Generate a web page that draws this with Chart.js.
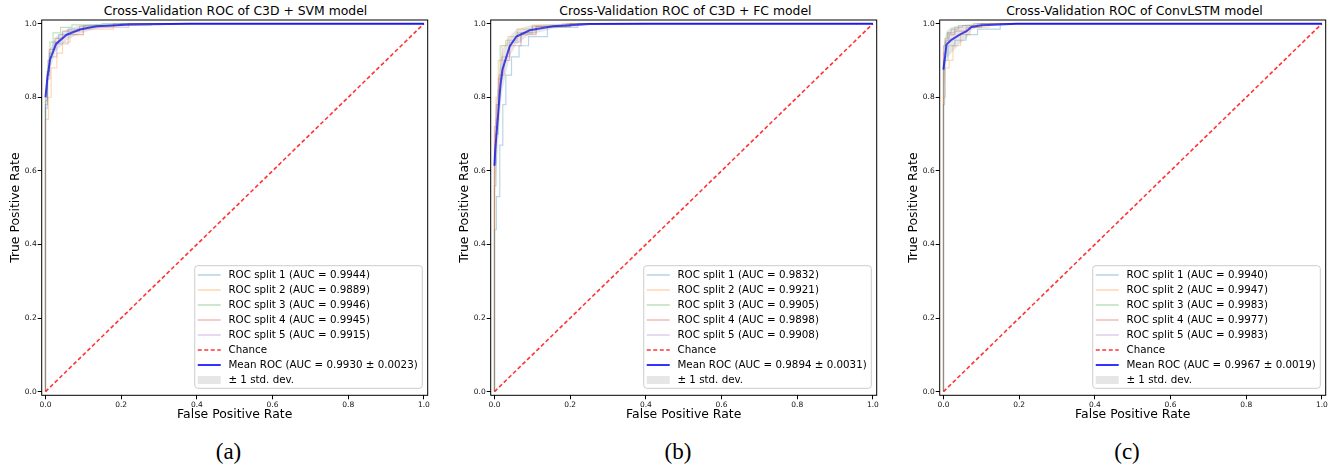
<!DOCTYPE html>
<html>
<head>
<meta charset="utf-8">
<script src="https://cdn.jsdelivr.net/npm/chart.js@4.4.1/dist/chart.umd.min.js"></script>
<style>
  body { margin: 0; width: 1337px; height: 467px; background: #fff; position: relative; overflow: hidden; font-family: "DejaVu Sans", sans-serif; }
  canvas { position: absolute; top: 0; }
  .title { position: absolute; top: 3px; width: 386px; text-align: center; font-size: 12.4px; line-height: 16px; color: #000; white-space: nowrap; }
  .caption { position: absolute; top: 437px; width: 60px; text-align: center; font-family: "Liberation Serif", "Times New Roman", serif; font-size: 23px; line-height: 30px; color: #000; }
</style>
</head>
<body>
<div class="title" style="left:42.5px">Cross-Validation ROC of C3D + SVM model</div>
<div class="title" style="left:492.4px">Cross-Validation ROC of C3D + FC model</div>
<div class="title" style="left:941.5px">Cross-Validation ROC of ConvLSTM model</div>
<canvas id="roc-a" width="445" height="430" style="left:0px"></canvas>
<canvas id="roc-b" width="445" height="430" style="left:449px"></canvas>
<canvas id="roc-c" width="439" height="430" style="left:898px"></canvas>
<div class="caption" style="left:198.5px">(a)</div>
<div class="caption" style="left:648px">(b)</div>
<div class="caption" style="left:1097px">(c)</div>
<script>
const tickValues = [0, 0.2, 0.4, 0.6, 0.8, 1.0];
const splitColors = ['rgba(31,119,180,0.3)', 'rgba(255,127,14,0.3)', 'rgba(44,160,44,0.3)', 'rgba(214,39,40,0.3)', 'rgba(148,103,189,0.3)'];
const chanceFpr = [0, 1];
const chanceTpr = [0, 1];

// (a) C3D + SVM
const splitAucA = [0.9944, 0.9889, 0.9946, 0.9945, 0.9915];
const splitFprA = [
    [0, 0, 0.005, 0.005, 0.01, 0.01, 0.02, 0.02, 0.035, 0.035, 0.06, 0.06, 0.1, 0.1, 0.2, 0.2, 1],
    [0, 0, 0.008, 0.008, 0.015, 0.015, 0.03, 0.03, 0.045, 0.045, 0.065, 0.065, 0.1, 0.1, 0.18, 0.18, 0.28, 0.28, 1],
    [0, 0, 0.006, 0.006, 0.012, 0.012, 0.02, 0.02, 0.04, 0.04, 0.07, 0.07, 0.15, 0.15, 1],
    [0, 0, 0.004, 0.004, 0.01, 0.01, 0.025, 0.025, 0.045, 0.045, 0.09, 0.09, 0.18, 0.18, 1],
    [0, 0, 0.005, 0.005, 0.012, 0.012, 0.03, 0.03, 0.06, 0.06, 0.1, 0.1, 0.22, 0.22, 1]
];
const splitTprA = [
    [0, 0.78, 0.78, 0.86, 0.86, 0.92, 0.92, 0.95, 0.95, 0.97, 0.97, 0.985, 0.985, 0.995, 0.995, 1, 1],
    [0, 0.74, 0.74, 0.8, 0.8, 0.88, 0.88, 0.92, 0.92, 0.95, 0.95, 0.97, 0.97, 0.985, 0.985, 0.995, 0.995, 1, 1],
    [0, 0.8, 0.8, 0.9, 0.9, 0.95, 0.95, 0.975, 0.975, 0.99, 0.99, 0.997, 0.997, 1, 1],
    [0, 0.79, 0.79, 0.87, 0.87, 0.93, 0.93, 0.96, 0.96, 0.98, 0.98, 0.993, 0.993, 1, 1],
    [0, 0.77, 0.77, 0.85, 0.85, 0.91, 0.91, 0.945, 0.945, 0.97, 0.97, 0.99, 0.99, 1, 1]
];
const meanFprA = [0, 0.005, 0.012, 0.028, 0.056, 0.091, 0.135, 0.224, 0.38, 1];
const meanTprA = [0.80, 0.852, 0.902, 0.945, 0.970, 0.984, 0.993, 0.998, 1.0, 1.0];
const upperA = [0.83, 0.88, 0.93, 0.965, 0.985, 0.995, 1.0, 1.0, 1.0, 1.0];
const lowerA = [0.77, 0.82, 0.875, 0.925, 0.955, 0.973, 0.986, 0.995, 1.0, 1.0];
const meanAucA = 0.9930, stdAucA = 0.0023;

// (b) C3D + FC
const splitAucB = [0.9832, 0.9921, 0.9905, 0.9898, 0.9908];
const splitFprB = [
    [0, 0, 0.005, 0.005, 0.014, 0.014, 0.022, 0.022, 0.03, 0.03, 0.045, 0.045, 0.065, 0.065, 0.09, 0.09, 0.14, 0.14, 0.22, 0.22, 1],
    [0, 0, 0.004, 0.004, 0.01, 0.01, 0.02, 0.02, 0.035, 0.035, 0.06, 0.06, 0.1, 0.1, 0.18, 0.18, 1],
    [0, 0, 0.004, 0.004, 0.01, 0.01, 0.015, 0.015, 0.03, 0.03, 0.06, 0.06, 0.1, 0.1, 0.2, 0.2, 1],
    [0, 0, 0.005, 0.005, 0.012, 0.012, 0.025, 0.025, 0.04, 0.04, 0.07, 0.07, 0.11, 0.11, 0.2, 0.2, 1],
    [0, 0, 0.004, 0.004, 0.01, 0.01, 0.02, 0.02, 0.04, 0.04, 0.07, 0.07, 0.11, 0.11, 0.19, 0.19, 1]
];
const splitTprB = [
    [0, 0.44, 0.44, 0.53, 0.53, 0.67, 0.67, 0.78, 0.78, 0.86, 0.86, 0.91, 0.91, 0.94, 0.94, 0.965, 0.965, 0.99, 0.99, 1, 1],
    [0, 0.7, 0.7, 0.8, 0.8, 0.9, 0.9, 0.94, 0.94, 0.965, 0.965, 0.985, 0.985, 0.996, 0.996, 1, 1],
    [0, 0.56, 0.56, 0.7, 0.7, 0.82, 0.82, 0.94, 0.94, 0.955, 0.955, 0.975, 0.975, 0.993, 0.993, 1, 1],
    [0, 0.72, 0.72, 0.78, 0.78, 0.86, 0.86, 0.9, 0.9, 0.94, 0.94, 0.97, 0.97, 0.992, 0.992, 1, 1],
    [0, 0.62, 0.62, 0.74, 0.74, 0.85, 0.85, 0.91, 0.91, 0.95, 0.95, 0.975, 0.975, 0.993, 0.993, 1, 1]
];
const meanFprB = [0, 0.002, 0.014, 0.016, 0.021, 0.04, 0.058, 0.093, 0.154, 0.252, 0.4, 1];
const meanTprB = [0.614, 0.657, 0.81, 0.834, 0.875, 0.938, 0.965, 0.982, 0.993, 0.999, 1, 1];
const upperB = [0.72, 0.76, 0.88, 0.9, 0.93, 0.965, 0.985, 0.995, 1, 1, 1, 1];
const lowerB = [0.51, 0.55, 0.74, 0.77, 0.82, 0.91, 0.945, 0.97, 0.986, 0.997, 1, 1];
const meanAucB = 0.9894, stdAucB = 0.0031;

// (c) ConvLSTM
const splitAucC = [0.9940, 0.9947, 0.9983, 0.9977, 0.9983];
const splitFprC = [
    [0, 0, 0.003, 0.003, 0.012, 0.012, 0.03, 0.03, 0.06, 0.06, 0.09, 0.09, 0.15, 0.15, 1],
    [0, 0, 0.005, 0.005, 0.015, 0.015, 0.025, 0.025, 0.045, 0.045, 0.07, 0.07, 0.12, 0.12, 1],
    [0, 0, 0.004, 0.004, 0.01, 0.01, 0.02, 0.02, 0.04, 0.04, 0.08, 0.08, 1],
    [0, 0, 0.006, 0.006, 0.015, 0.015, 0.03, 0.03, 0.06, 0.06, 0.1, 0.1, 1],
    [0, 0, 0.005, 0.005, 0.012, 0.012, 0.03, 0.03, 0.05, 0.05, 0.09, 0.09, 1]
];
const splitTprC = [
    [0, 0.78, 0.78, 0.9, 0.9, 0.94, 0.94, 0.955, 0.955, 0.97, 0.97, 0.985, 0.985, 1, 1],
    [0, 0.8, 0.8, 0.88, 0.88, 0.9, 0.9, 0.94, 0.94, 0.97, 0.97, 0.99, 0.99, 1, 1],
    [0, 0.9, 0.9, 0.96, 0.96, 0.975, 0.975, 0.985, 0.985, 0.995, 0.995, 1, 1],
    [0, 0.94, 0.94, 0.955, 0.955, 0.97, 0.97, 0.98, 0.98, 0.99, 0.99, 1, 1],
    [0, 0.92, 0.92, 0.95, 0.95, 0.975, 0.975, 0.99, 0.99, 0.995, 0.995, 1, 1]
];
const meanFprC = [0, 0.008, 0.021, 0.043, 0.06, 0.074, 0.1, 0.193, 1];
const meanTprC = [0.875, 0.943, 0.956, 0.97, 0.979, 0.991, 0.996, 1, 1];
const upperC = [0.94, 0.98, 0.99, 0.995, 0.998, 1, 1, 1, 1];
const lowerC = [0.81, 0.905, 0.92, 0.945, 0.96, 0.982, 0.992, 1, 1];
const meanAucC = 0.9967, stdAucC = 0.0019;

function xy(xs, ys) {
    return xs.map((x, i) => ({ x: x, y: ys[i] }));
}

// full box around the plot area, like matplotlib spines
const framePlugin = {
    id: 'frame',
    afterDatasetsDraw(chart) {
        const a = chart.chartArea, ctx = chart.ctx;
        ctx.save();
        ctx.strokeStyle = '#000';
        ctx.lineWidth = 1;
        ctx.strokeRect(a.left, a.top, a.right - a.left, a.bottom - a.top);
        ctx.restore();
    }
};

// legend box in the lower right corner of the plot area
const legendPlugin = {
    id: 'cornerLegend',
    afterDraw(chart) {
        const ctx = chart.ctx, a = chart.chartArea;
        const items = chart.data.datasets.filter(d => d.label);
        ctx.save();
        ctx.font = '10.3px "DejaVu Sans"';
        const textW = Math.max(...items.map(d => ctx.measureText(d.label).width));
        const w = 33.7 + textW + 4.6, h = 122.6;
        const x0 = a.right - 5.4 - w, y0 = a.bottom - 7 - h;
        ctx.beginPath();
        ctx.roundRect(x0, y0, w, h, 3);
        ctx.fillStyle = 'rgba(255,255,255,0.8)';
        ctx.fill();
        ctx.strokeStyle = '#cccccc';
        ctx.lineWidth = 1;
        ctx.stroke();
        items.forEach((d, i) => {
            const cy = y0 + 9.3 + i * 15;
            if (d.fill) {
                ctx.fillStyle = d.backgroundColor;
                ctx.fillRect(x0 + 3, cy - 4, 23, 8);
            } else {
                ctx.strokeStyle = d.borderColor;
                ctx.lineWidth = Math.max(d.borderWidth, 1.6);
                ctx.setLineDash(d.borderDash || []);
                ctx.beginPath();
                ctx.moveTo(x0 + 3, cy);
                ctx.lineTo(x0 + 26, cy);
                ctx.stroke();
                ctx.setLineDash([]);
            }
            ctx.fillStyle = '#000';
            ctx.textBaseline = 'middle';
            ctx.textAlign = 'left';
            ctx.fillText(d.label, x0 + 33.7, cy + 0.5);
        });
        ctx.restore();
    }
};

function axisOptions(titleText, isX) {
    return {
        type: 'linear',
        min: -0.01,
        max: 1.01,
        afterFit: s => { if (isX) { s.height = 34.7; } else { s.width = 41.7; } },
        afterBuildTicks: s => { s.ticks = tickValues.map(v => ({ value: v })); },
        ticks: {
            padding: 1,
            color: '#111',
            font: { family: 'DejaVu Sans', size: 7.5 },
            callback: v => v.toFixed(1),
            maxRotation: 0
        },
        grid: { drawOnChartArea: false, drawTicks: true, tickLength: 4, color: '#000', lineWidth: 1 },
        border: { display: false },
        title: {
            display: true,
            text: titleText,
            color: '#000',
            font: { family: 'DejaVu Sans', size: 12.4 },
            padding: isX ? { top: 0, bottom: 8 } : { top: 8.5, bottom: 0 }
        }
    };
}

function makePanel(id, padRight, splitFpr, splitTpr, splitAuc, meanFpr, meanTpr, upper, lower, meanAuc, stdAuc) {
    const datasets = splitFpr.map((f, i) => ({
        label: 'ROC split ' + (i + 1) + ' (AUC = ' + splitAuc[i].toFixed(4) + ')',
        data: xy(f, splitTpr[i]),
        borderColor: splitColors[i],
        borderWidth: 1.2,
        fill: false,
        order: 4
    }));
    datasets.push({
        label: 'Chance',
        data: xy(chanceFpr, chanceTpr),
        borderColor: 'rgba(255,0,0,0.8)',
        borderWidth: 1.6,
        borderDash: [4, 2.5],
        fill: false,
        order: 3
    });
    datasets.push({
        label: 'Mean ROC (AUC = ' + meanAuc.toFixed(4) + ' \u00b1 ' + stdAuc.toFixed(4) + ')',
        data: xy(meanFpr, meanTpr),
        borderColor: 'rgba(0,0,255,0.8)',
        borderWidth: 2,
        fill: false,
        order: 2
    });
    datasets.push({
        label: '\u00b1 1 std. dev.',
        data: xy(meanFpr, upper),
        borderColor: 'rgba(0,0,0,0)',
        borderWidth: 0,
        backgroundColor: 'rgba(128,128,128,0.2)',
        fill: '+1',
        order: 1
    });
    datasets.push({
        label: '',
        data: xy(meanFpr, lower),
        borderColor: 'rgba(0,0,0,0)',
        borderWidth: 0,
        fill: false,
        order: 1
    });

    const ctx = document.getElementById(id).getContext('2d');
    return new Chart(ctx, {
        type: 'line',
        data: { datasets: datasets },
        options: {
            responsive: false,
            animation: false,
            layout: { padding: { top: 20, right: padRight, bottom: 0, left: 0 } },
            elements: { point: { radius: 0 }, line: { tension: 0 } },
            plugins: { legend: { display: false }, tooltip: { enabled: false } },
            scales: {
                x: axisOptions('False Positive Rate', true),
                y: axisOptions('True Positive Rate', false)
            }
        },
        plugins: [framePlugin, legendPlugin]
    });
}

makePanel('roc-a', 17.3, splitFprA, splitTprA, splitAucA, meanFprA, meanTprA, upperA, lowerA, meanAucA, stdAucA);
makePanel('roc-b', 17.3, splitFprB, splitTprB, splitAucB, meanFprB, meanTprB, upperB, lowerB, meanAucB, stdAucB);
makePanel('roc-c', 11.3, splitFprC, splitTprC, splitAucC, meanFprC, meanTprC, upperC, lowerC, meanAucC, stdAucC);
</script>
</body>
</html>
